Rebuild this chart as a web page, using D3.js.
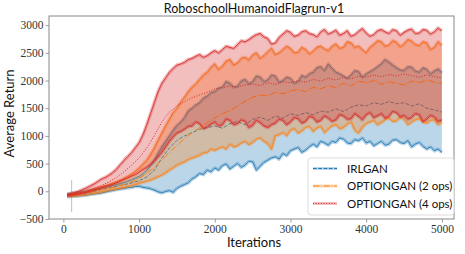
<!DOCTYPE html>
<html><head><meta charset="utf-8">
<script src="https://cdn.jsdelivr.net/npm/d3@7"></script>
<style>body{margin:0;background:#fff}</style>
</head><body><svg id="c" width="465" height="254"></svg>
<script>
// iteration grid for the mean curves
const iterations = [50,100,200,300,400,500,600,700,800,900,1000,1100,1200,1300,1400,1500,1600,1700,1800,1900,2000,2100,2200,2300,2400,2500,2600,2700,2800,2900,3000,3100,3200,3300,3400,3500,3600,3700,3800,3900,4000,4100,4200,4300,4400,4500,4600,4700,4800,4900,5000];
// iteration grid for the band edges
const edgeIterations = [
  50,100,150,200,250,300,350,400,450,500,
  550,600,650,700,750,800,850,900,950,1000,
  1050,1100,1150,1200,1250,1300,1350,1400,1450,1500,
  1550,1600,1650,1700,1750,1800,1850,1900,1950,2000,
  2050,2100,2150,2200,2250,2300,2350,2400,2450,2500,
  2550,2600,2650,2700,2750,2800,2850,2900,2950,3000,
  3050,3100,3150,3200,3250,3300,3350,3400,3450,3500,
  3550,3600,3650,3700,3750,3800,3850,3900,3950,4000,
  4050,4100,4150,4200,4250,4300,4350,4400,4450,4500,
  4550,4600,4650,4700,4750,4800,4850,4900,4950,5000];

const irlLower = [
  -100,-95,-90,-85,-78,-70,-60,-50,-40,-30,
  -15,0,15,30,40,50,65,70,85,90,
  70,60,45,20,-10,-30,-5,10,-20,50,
  90,120,150,220,260,320,300,380,350,420,
  380,460,490,400,450,500,430,470,540,530,
  380,450,520,560,600,620,580,680,640,730,
  760,790,700,740,800,850,800,900,870,830,
  900,880,960,940,870,860,930,910,960,870,
  900,820,860,900,830,850,920,930,880,860,
  910,800,850,880,810,760,800,730,760,700];
const irlMean = [-80,-70,-50,-30,0,30,60,90,120,150,190,260,380,600,780,920,1000,1060,1120,1150,1180,1140,1220,1260,1200,1300,1340,1280,1360,1320,1400,1370,1420,1380,1450,1430,1490,1440,1520,1560,1540,1600,1570,1620,1580,1600,1540,1580,1500,1470,1430];
const irlUpper = [
  -50,-40,-30,-20,-10,0,15,30,45,60,
  75,90,105,120,140,160,185,210,240,270,
  320,380,470,560,680,800,900,1000,1100,1190,
  1250,1330,1450,1500,1560,1600,1680,1720,1780,1800,
  1860,1880,1980,1950,1880,1900,1990,2020,1940,1980,
  2080,2060,1980,2010,2100,2080,1970,2000,2060,2040,
  1950,1980,2090,2060,2120,2150,2230,2250,2180,2300,
  2220,2150,2120,2080,2040,2100,2180,2160,2060,2120,
  2160,2200,2250,2300,2380,2330,2280,2230,2190,2180,
  2250,2240,2170,2150,2230,2200,2120,2170,2210,2140];

const op2Lower = [
  -90,-88,-85,-78,-70,-60,-50,-38,-25,-12,
  0,20,30,40,55,70,85,100,120,145,
  160,180,200,230,260,290,330,380,420,470,
  500,530,570,600,620,650,690,700,760,740,
  770,800,760,850,800,820,870,900,840,880,
  940,960,900,860,760,1000,1020,1060,1000,1100,
  1130,1050,1090,1150,1170,1080,1140,1170,1060,1120,
  1180,1200,1130,1150,1210,1250,1100,1050,1150,1220,
  1250,1280,1200,1240,1290,1320,1260,1270,1330,1300,
  1200,1250,1290,1310,1250,1230,1280,1290,1200,1250];
const op2Mean = [-75,-65,-45,-25,0,30,55,80,120,170,235,320,430,570,700,830,950,1060,1150,1240,1320,1400,1460,1540,1620,1700,1740,1720,1790,1760,1810,1840,1800,1880,1850,1910,1870,1950,1900,1990,1960,2000,1930,1980,1950,1920,1990,1960,2010,1970,1950];
const op2Upper = [
  -60,-50,-42,-30,-15,0,20,40,60,80,
  100,120,145,170,200,230,270,310,360,420,
  490,560,660,780,920,1050,1180,1300,1420,1500,
  1610,1700,1800,1880,1940,2020,2100,2150,2240,2300,
  2200,2260,2350,2380,2280,2320,2400,2420,2370,2460,
  2500,2400,2450,2520,2580,2470,2500,2560,2620,2580,
  2500,2510,2600,2560,2480,2530,2600,2620,2570,2540,
  2620,2660,2580,2600,2700,2680,2600,2620,2560,2500,
  2600,2650,2720,2700,2620,2640,2720,2690,2610,2660,
  2740,2710,2650,2630,2700,2680,2560,2600,2700,2640];

const op4Lower = [
  -80,-70,-60,-50,-35,-20,0,20,40,60,
  80,100,125,150,180,210,240,270,300,340,
  390,430,480,540,620,700,800,900,980,1050,
  1080,1120,1170,1180,1250,1220,1130,1160,1210,1250,
  1180,1200,1300,1280,1200,1220,1290,1260,1150,1190,
  1280,1240,1180,1150,1200,1230,1300,1280,1200,1250,
  1330,1310,1230,1260,1350,1330,1250,1280,1360,1320,
  1260,1290,1380,1360,1300,1310,1400,1350,1290,1380,
  1420,1330,1360,1400,1320,1350,1440,1420,1340,1370,
  1300,1330,1400,1380,1260,1300,1370,1340,1260,1290];
const op4Mean = [-70,-60,-30,0,50,100,170,250,350,470,600,780,1000,1250,1430,1540,1620,1690,1740,1790,1850,1870,1900,1880,1920,1940,1910,1960,1930,1980,1960,2000,1970,2020,1990,2040,2010,2060,2030,2080,2060,2100,2070,2110,2080,2120,2090,2060,2100,2070,2050];
const op4Upper = [
  -60,-40,-20,0,30,60,95,130,175,220,
  250,290,340,400,480,560,630,700,790,880,
  1020,1200,1400,1600,1800,1950,2050,2150,2220,2280,
  2300,2330,2380,2400,2440,2470,2420,2450,2500,2540,
  2500,2560,2620,2600,2580,2650,2720,2700,2740,2790,
  2830,2850,2790,2760,2660,2680,2780,2840,2900,2870,
  2800,2820,2880,2900,2850,2830,2790,2880,2920,2840,
  2870,2910,2820,2850,2900,2800,2830,2890,2940,2860,
  2800,2830,2900,2920,2880,2850,2920,2900,2820,2870,
  2910,2930,2850,2860,2920,2910,2840,2880,2950,2900];

const startBar = {iteration: 108, low: -375, high: 200};

const seriesNames = ["IRLGAN", "OPTIONGAN (2 ops)", "OPTIONGAN (4 ops)"];
const xTicks = [0,1000,2000,3000,4000,5000];
const yTicks = [-500,0,500,1000,1500,2000,2500,3000];

const series = [
  {name: seriesNames[0], color: "#1f77b4", dash: "3.7,1.6", lower: irlLower, mean: irlMean, upper: irlUpper},
  {name: seriesNames[1], color: "#ff7f0e", dash: "6.4,1.6,1,1.6", lower: op2Lower, mean: op2Mean, upper: op2Upper},
  {name: seriesNames[2], color: "#d62728", dash: "1,1.65", lower: op4Lower, mean: op4Mean, upper: op4Upper}
];

const M = {l: 49, r: 454, t: 16, b: 219};
const svg = d3.select("#c");
const x = d3.scaleLinear().domain([-190, 5160]).range([M.l, M.r]);
const y = d3.scaleLinear().domain([-500, 3165]).range([M.b, M.t]);

svg.append("clipPath").attr("id", "clip").append("rect")
  .attr("x", M.l).attr("y", M.t).attr("width", M.r - M.l).attr("height", M.b - M.t);
const plot = svg.append("g").attr("clip-path", "url(#clip)");

plot.append("line")
  .attr("x1", x(startBar.iteration)).attr("x2", x(startBar.iteration))
  .attr("y1", y(startBar.low)).attr("y2", y(startBar.high))
  .attr("stroke", "#1f77b4").attr("stroke-opacity", 0.35).attr("stroke-width", 1.2);

const edgeLine = d3.line().x((d, i) => x(edgeIterations[i])).y(d => y(d));
const meanLine = d3.line().x((d, i) => x(iterations[i])).y(d => y(d));

series.forEach(s => {
  const area = d3.area().x((d, i) => x(edgeIterations[i])).y0((d, i) => y(s.lower[i])).y1((d, i) => y(s.upper[i]));
  plot.append("path").datum(s.lower).attr("d", area).attr("fill", s.color).attr("fill-opacity", 0.3);
  [s.lower, s.upper].forEach(arr => {
    plot.append("path").datum(arr).attr("d", edgeLine).attr("fill", "none")
      .attr("stroke", s.color).attr("stroke-opacity", 0.3).attr("stroke-width", 3.5).attr("stroke-linejoin", "round");
    plot.append("path").datum(arr).attr("d", edgeLine).attr("fill", "none")
      .attr("stroke", s.color).attr("stroke-opacity", 0.85).attr("stroke-width", 1).attr("stroke-linejoin", "round");
  });
  plot.append("path").datum(s.mean).attr("d", meanLine).attr("fill", "none")
    .attr("stroke", s.color).attr("stroke-width", 1).attr("stroke-dasharray", s.dash);
});

const fmt = d => d < 0 ? "\u2212" + Math.abs(d) : String(d);
const gx = svg.append("g").attr("transform", `translate(0,${M.b})`)
  .call(d3.axisBottom(x).tickValues(xTicks).tickSize(3.5).tickPadding(2).tickFormat(fmt));
const gy = svg.append("g").attr("transform", `translate(${M.l},0)`)
  .call(d3.axisLeft(y).tickValues(yTicks).tickSize(3.5).tickPadding(2).tickFormat(fmt));
[gx, gy].forEach(g => {
  g.select(".domain").remove();
  g.selectAll(".tick line").attr("stroke", "#888").attr("stroke-width", 0.8);
  g.selectAll(".tick text").attr("fill", "#333").style("font-family", "'Liberation Serif', serif").style("font-size", "11.5px");
});
svg.append("rect").attr("x", M.l).attr("y", M.t).attr("width", M.r - M.l).attr("height", M.b - M.t)
  .attr("fill", "none").attr("stroke", "#888").attr("stroke-width", 1);

const sans = "Lato, 'DejaVu Sans', sans-serif";
svg.append("text").attr("x", 254).attr("y", 13).attr("text-anchor", "middle")
  .style("font-family", sans).style("font-size", "12.5px").attr("fill", "#111").text("RoboschoolHumanoidFlagrun-v1");
svg.append("text").attr("x", 254).attr("y", 247).attr("text-anchor", "middle")
  .style("font-family", sans).style("font-size", "13px").attr("fill", "#111").text("Iterations");
svg.append("text").attr("transform", `translate(14,${(M.t + M.b) / 2 - 4}) rotate(-90)`).attr("text-anchor", "middle")
  .style("font-family", sans).style("font-size", "13px").attr("fill", "#111").text("Average Return");

const lg = svg.append("g");
lg.append("rect").attr("x", 308).attr("y", 158).attr("width", 146).attr("height", 57).attr("rx", 3)
  .attr("fill", "#fff").attr("fill-opacity", 0.85).attr("stroke", "#ddd").attr("stroke-width", 1);
series.forEach((s, i) => {
  const yy = 168.5 + i * 17.5;
  lg.append("line").attr("x1", 313).attr("x2", 337).attr("y1", yy).attr("y2", yy)
    .attr("stroke", s.color).attr("stroke-opacity", 0.3).attr("stroke-width", 3);
  lg.append("line").attr("x1", 313).attr("x2", 337).attr("y1", yy).attr("y2", yy)
    .attr("stroke", s.color).attr("stroke-width", 1).attr("stroke-dasharray", s.dash);
  lg.append("text").attr("x", 347).attr("y", yy + 4).style("font-family", sans).style("font-size", "11.5px")
    .attr("fill", "#111").text(s.name);
});
</script></body></html>
